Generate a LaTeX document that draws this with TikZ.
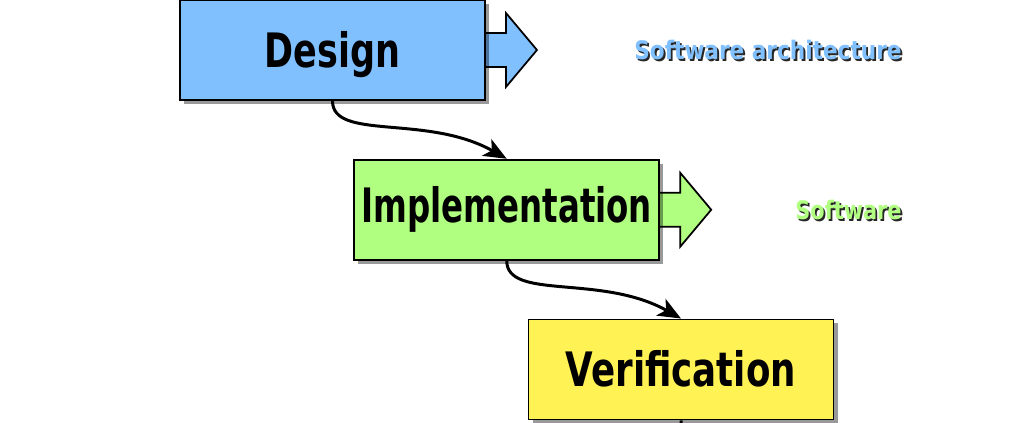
\documentclass[tikz,border=0pt]{standalone}
\usepackage{fontspec}
\setmainfont{DejaVu Sans Condensed}
\usepackage{graphicx}
\usepackage{tikz}
\usetikzlibrary{arrows.meta,shadows,backgrounds}
\definecolor{wfblue}{HTML}{80C0FF}
\definecolor{wfgreen}{HTML}{B0FF80}
\definecolor{wfyellow}{HTML}{FFF255}
% product label with dark drop shadow
\newcommand{\shtext}[2]{\rlap{\kern1.1pt\raisebox{-1.1pt}{\color{black!85}#2}}\textcolor{#1}{#2}}
\tikzset{
  stage/.style={draw=black,line width=1.1pt,minimum width=6.1cm,minimum height=2.0cm,
    inner sep=0pt,text height=19.7pt,text depth=0pt,font=\fontsize{27}{30}\selectfont\bfseries,
    drop shadow={shadow xshift=0.08cm,shadow yshift=-0.08cm,fill=black,opacity=0.4}},
  flow/.style={line width=1.7pt,-{Stealth[length=0.46cm,width=0.38cm,inset=0.12cm]}},
  outarrow/.style={draw=black,line width=1pt},
  outlabel/.style={anchor=east,inner sep=0pt,font=\fontsize{14.5}{16}\selectfont\bfseries}
}
\begin{document}
\begin{tikzpicture}
  \useasboundingbox (0,0) rectangle (20.48,8.46);
  % stages
  \foreach \n/\c/\t/\s/\dy [count=\i from 0] in {design/wfblue/Design/0.82/0,
      impl/wfgreen/Implementation/0.76/0.09, verif/wfyellow/Verification/0.835/0}{
    \node[stage,fill=\c] (\n) at ({6.65+3.485*\i},{7.46-3.195*\i}) {\raisebox{\dy cm}{\scalebox{\s}[1]{\t}}};
  }
  % block arrows and products
  \foreach \n/\c/\t/\s/\y in {design/wfblue/Software architecture/0.943/7.44, impl/wfgreen/Software/0.91/4.24}{
    \begin{scope}[on background layer,shift={(\n.east)}]
      \draw[outarrow,fill=\c] (-0.3,0.34) -- (0.4,0.34) -- (0.4,0.74) -- (1.02,0)
        -- (0.4,-0.74) -- (0.4,-0.34) -- (-0.3,-0.34) -- cycle;
    \end{scope}
    \node[outlabel] (\n-out) at (18.04,\y) {\scalebox{\s}[1]{\shtext{\c}{\t}}};
  }
  % connectors
  \coordinate (req) at (3.2,9.6);
  \coordinate (next) at (16.5,-1.0);
  \draw[flow] (req) .. controls +(1.6,-0.9) and +(0,0.8) .. (design.north);
  \draw[flow] (design.south) .. controls +(0,-0.8) and +(-1.6,0.9) .. (impl.north);
  \draw[flow] (impl.south) .. controls +(0,-0.8) and +(-1.6,0.9) .. (verif.north);
  \draw[flow] (verif.south) .. controls +(0,-0.8) and +(-1.6,0.9) .. (next);
\end{tikzpicture}
\end{document}
